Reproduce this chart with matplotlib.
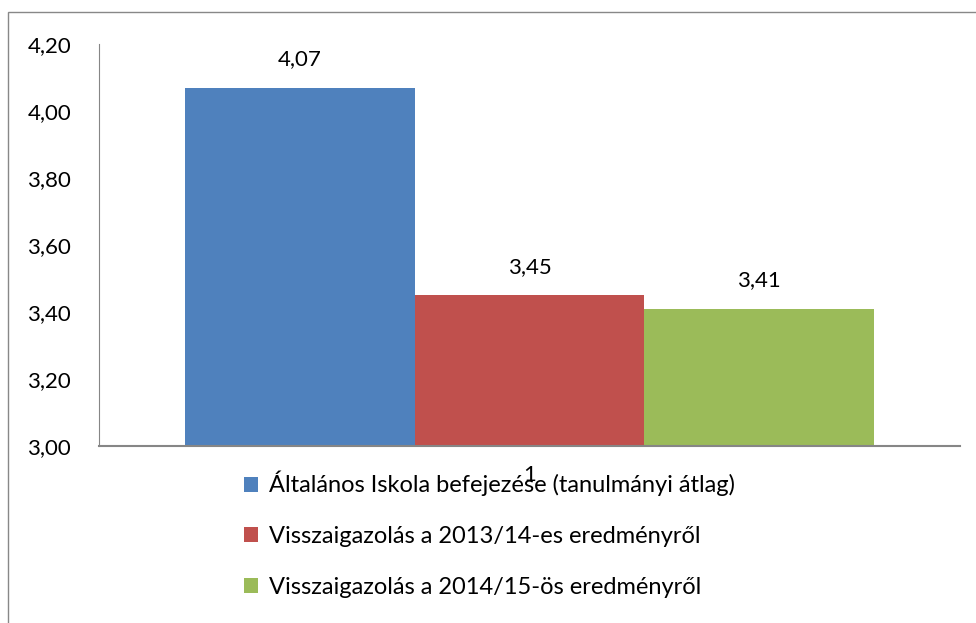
import matplotlib.pyplot as plt
from matplotlib.patches import Rectangle

plt.rcParams["font.family"] = ["Lato", "DejaVu Sans"]

# --- Data ---
category = "1"
series_names = [
    "Általános Iskola befejezése (tanulmányi átlag)",
    "Visszaigazolás a 2013/14-es eredményről",
    "Visszaigazolás a 2014/15-ös eredményről",
]
values = [4.07, 3.45, 3.41]
colors = ["#4F81BD", "#C0504D", "#9BBB59"]
y_ticks = [3.00, 3.20, 3.40, 3.60, 3.80, 4.00, 4.20]

# --- Chart ---
fig = plt.figure(figsize=(9.76, 6.23), dpi=100)
ax = fig.add_axes([99 / 976, 1 - 446 / 623, 861 / 976, 402 / 623])

width = 0.8 / len(values)
offsets = [(i - (len(values) - 1) / 2) * width for i in range(len(values))]
for off, val, col, name in zip(offsets, values, colors, series_names):
    ax.bar(off, val - 3.0, bottom=3.0, width=width, color=col, label=name)
    ax.text(off, val + 0.055, f"{val:.2f}".replace(".", ","),
            ha="center", va="bottom", fontsize=16)

ax.set_xlim(-0.5, 0.5)
ax.set_ylim(3.0, 4.2)
ax.set_yticks(y_ticks)
ax.set_yticklabels([f"{t:.2f}".replace(".", ",") for t in y_ticks], fontsize=16)
ax.set_xticks([0])
ax.set_xticklabels([category], fontsize=16)
ax.tick_params(length=0)
ax.tick_params(axis="x", pad=14)
ax.tick_params(axis="y", pad=20)

for s in ["top", "right"]:
    ax.spines[s].set_visible(False)
ax.spines["left"].set_color("#868686")
ax.spines["bottom"].set_color("#868686")
ax.spines["bottom"].set_linewidth(1.5)

ax.legend(loc="upper left", bbox_to_anchor=(244 / 976, 1 - 471 / 623),
          bbox_transform=fig.transFigure, frameon=False, fontsize=17,
          handlelength=0.6, handleheight=0.6, handletextpad=0.45,
          labelspacing=1.25, borderaxespad=0, borderpad=0)

# outer chart border
fig.patches.append(Rectangle((8 / 976, -0.1), 1.2, 1 - 12 / 623 + 0.1,
                             transform=fig.transFigure, fill=False,
                             edgecolor="#888888", linewidth=1))

plt.savefig("out.png", dpi=100)
